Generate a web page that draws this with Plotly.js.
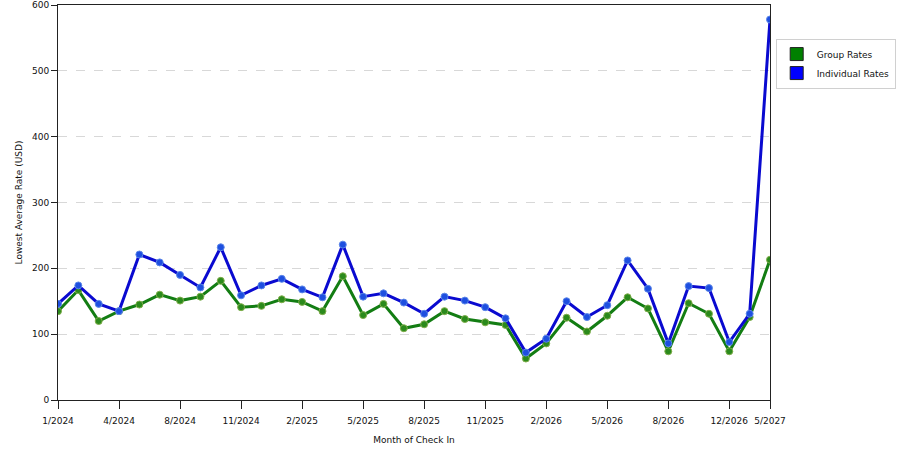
<!DOCTYPE html>
<html>
<head>
<meta charset="utf-8">
<script src="https://cdn.plot.ly/plotly-3.0.1.min.js"></script>
<style>html,body{margin:0;padding:0;background:#fff;}#chart{width:900px;height:450px;}</style>
</head>
<body>
<div id="chart"></div>
<script>
const months = ["1/2024","2/2024","3/2024","4/2024","5/2024","6/2024","8/2024","9/2024","10/2024","11/2024","12/2024","1/2025",
  "2/2025","3/2025","4/2025","5/2025","6/2025","7/2025","8/2025","9/2025","10/2025","11/2025","12/2025","1/2026",
  "2/2026","3/2026","4/2026","5/2026","6/2026","7/2026","8/2026","9/2026","10/2026","12/2026","3/2027","5/2027"];
const tickMonths = ["1/2024","4/2024","8/2024","11/2024","2/2025","5/2025","8/2025","11/2025","2/2026","5/2026","8/2026","12/2026","5/2027"];
const groupRates = [135,167,120,135,145,160,151,157,181,141,143,153,149,135,188,129,146,109,115,135,123,118,114,63,86,125,104,128,156,139,74,147,131,74,126,213];
const individualRates = [146,174,146,135,221,209,190,171,232,159,174,184,168,156,236,157,162,148,131,157,151,141,124,72,93,150,126,144,212,169,86,173,170,88,131,578];

const font = {family: "DejaVu Sans, Verdana, sans-serif", size: 9, color: "#111"};
const traces = [
  {x: months, y: groupRates, type: "scatter", mode: "lines+markers", name: "Group Rates", showlegend: false,
   line: {color: "#137d13", width: 3}, marker: {color: "#2b8a1c", size: 7, line: {color: "#7fae4a", width: 1}}},
  {x: months, y: individualRates, type: "scatter", mode: "lines+markers", name: "Individual Rates", showlegend: false,
   line: {color: "#0a0ad0", width: 3}, marker: {color: "#1e4fe0", size: 7, line: {color: "#5b86e8", width: 1}}},
  {x: [null], y: [null], type: "scatter", mode: "markers", name: "Group Rates",
   marker: {symbol: "square", color: "#008000", size: 13, line: {color: "#222", width: 1}}},
  {x: [null], y: [null], type: "scatter", mode: "markers", name: "Individual Rates",
   marker: {symbol: "square", color: "#0000ff", size: 13, line: {color: "#222", width: 1}}}
];
const layout = {
  width: 900, height: 450,
  margin: {l: 58, r: 130, t: 5, b: 50, autoexpand: false},
  paper_bgcolor: "#fff", plot_bgcolor: "#fff",
  font: font,
  showlegend: true,
  legend: {x: 1.008, y: 0.915, xanchor: "left", yanchor: "top", bgcolor: "#fff",
           bordercolor: "#d0d0d0", borderwidth: 1, font: {family: font.family, size: 9, color: "#111"},
           tracegroupgap: 4, itemwidth: 30},
  xaxis: {type: "category", categoryorder: "array", categoryarray: months, range: [0, 35],
          tickmode: "array", tickvals: tickMonths, ticktext: tickMonths,
          showgrid: false, zeroline: false, showline: true, linecolor: "#222", linewidth: 1, mirror: true,
          ticks: "outside", ticklen: 8, tickcolor: "#222", ticklabelstandoff: 4,
          title: {text: "Month of Check In", font: {family: font.family, size: 9, color: "#111"}, standoff: 11}},
  yaxis: {range: [0, 600], dtick: 100, tick0: 0,
          showgrid: true, gridcolor: "#d8d8d8", griddash: "dash", gridwidth: 1,
          zeroline: false, showline: true, linecolor: "#222", linewidth: 1, mirror: true,
          ticks: "outside", ticklen: 6, tickcolor: "#222",
          title: {text: "Lowest Average Rate (USD)", font: {family: font.family, size: 9, color: "#111"}, standoff: 7}}
};
Plotly.newPlot("chart", traces, layout, {displayModeBar: false, staticPlot: true});
</script>
</body>
</html>
